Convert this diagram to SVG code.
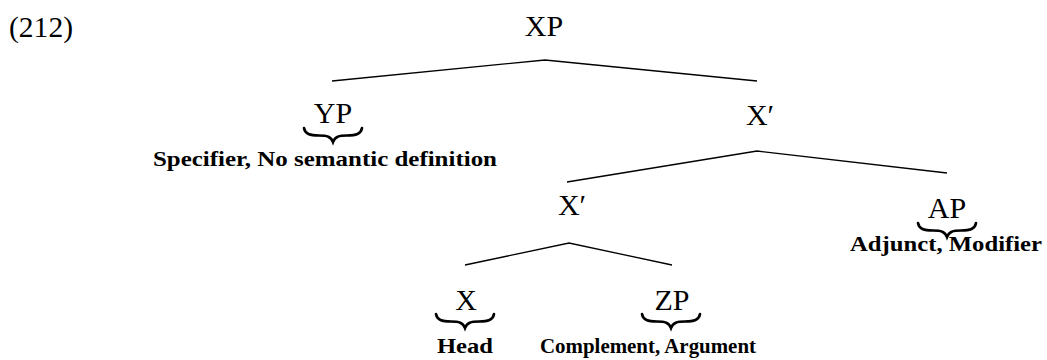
<svg xmlns="http://www.w3.org/2000/svg" width="1047" height="360" viewBox="0 0 1047 360">
<style>
.n{font-family:"Liberation Serif","Times New Roman",serif;font-size:30px;fill:#000;text-anchor:middle}
.num{font-family:"Liberation Serif","Times New Roman",serif;font-size:30px;fill:#000}
.l{font-family:"Liberation Serif","Times New Roman",serif;font-size:21px;font-weight:bold;fill:#000;text-anchor:middle}
.e{fill:none;stroke:#000;stroke-width:1.3}
.b{fill:none;stroke:#000;stroke-width:2.6;stroke-linecap:round}
</style>
<defs>
<path id="brace" class="b" d="M1,1 C2,7 7,8.5 16,8.5 C24,8.5 28,9.5 30,15 C32,9.5 36,8.5 44,8.5 C53,8.5 58,7 59,1"/>
</defs>
<rect width="1047" height="360" fill="#fff"/>
<text class="num" x="9" y="37" textLength="64" lengthAdjust="spacingAndGlyphs">(212)</text>
<g id="connectors">
<polyline class="e" points="332,81 545,60 757,81"/>
<polyline class="e" points="567,182 757,151 947,173"/>
<polyline class="e" points="465,265 569,243 672,265"/>
</g>
<g id="XP"><text class="n" x="544" y="36">XP</text></g>
<g id="YP"><text class="n" x="333" y="123">YP</text><use href="#brace" x="303" y="127"/><text class="l" x="325" y="166" textLength="344" lengthAdjust="spacingAndGlyphs">Specifier, No semantic definition</text></g>
<g id="Xbar1"><text class="n" x="760" y="125">X′</text></g>
<g id="Xbar2"><text class="n" x="572" y="215">X′</text></g>
<g id="AP"><text class="n" x="947" y="218">AP</text><use href="#brace" x="917" y="222"/><text class="l" x="946" y="251" textLength="192" lengthAdjust="spacingAndGlyphs">Adjunct, Modifier</text></g>
<g id="X"><text class="n" x="466" y="310">X</text><use href="#brace" x="435" y="313"/><text class="l" x="465" y="353" textLength="56" lengthAdjust="spacingAndGlyphs">Head</text></g>
<g id="ZP"><text class="n" x="672" y="310">ZP</text><use href="#brace" x="641" y="313"/><text class="l" x="648" y="353" textLength="216" lengthAdjust="spacingAndGlyphs">Complement, Argument</text></g>
</svg>
